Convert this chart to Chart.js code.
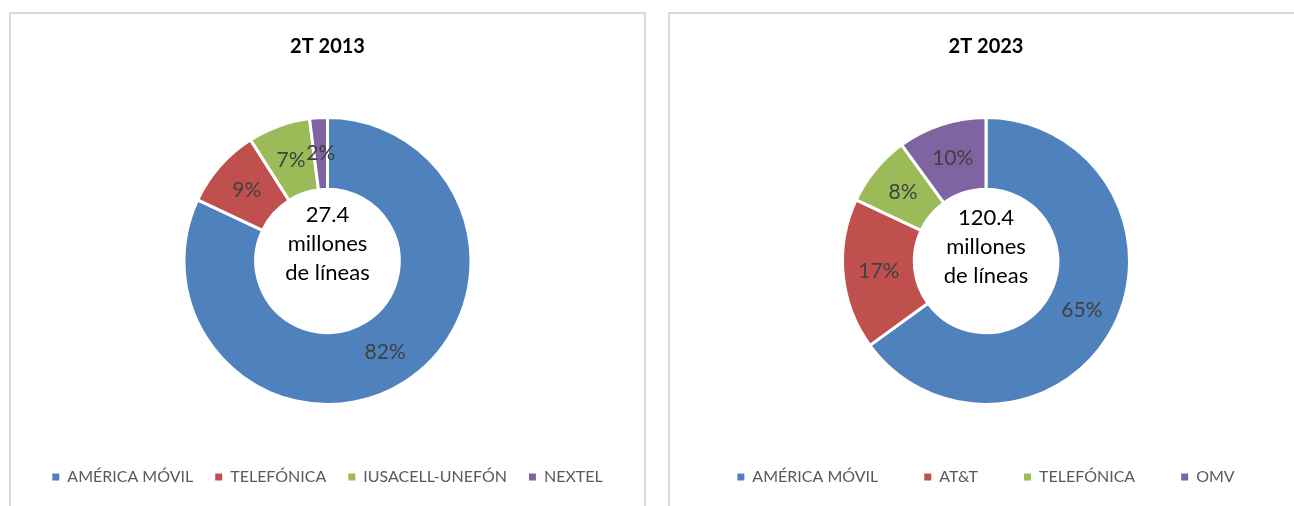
<!DOCTYPE html>
<html>
<head>
<meta charset="utf-8">
<script src="https://cdn.jsdelivr.net/npm/chart.js@4.4.0/dist/chart.umd.min.js"></script>
<style>
  html, body { margin: 0; padding: 0; background: #fff; overflow: hidden; }
  body { width: 1294px; height: 506px; position: relative; }
  .panel { position: absolute; top: 12px; height: 500px; border: 2px solid #d9d9d9; border-bottom: none; }
  #left { left: 9px; width: 633px; }
  #right { left: 668px; width: 632px; }
  canvas { display: block; }
</style>
</head>
<body>
<div class="panel" id="left"><canvas id="chart2013" width="633" height="492"></canvas></div>
<div class="panel" id="right"><canvas id="chart2023" width="632" height="492"></canvas></div>
<script>
// 2T 2013
const labels2013 = ['AMÉRICA MÓVIL', 'TELEFÓNICA', 'IUSACELL-UNEFÓN', 'NEXTEL'];
const shares2013 = [82, 9, 7, 2];
const total2013 = '27.4';

// 2T 2023
const labels2023 = ['AMÉRICA MÓVIL', 'AT&T', 'TELEFÓNICA', 'OMV'];
const shares2023 = [65, 17, 8, 10];
const total2023 = '120.4';

const colors = ['#4f81bd', '#c0504d', '#9bbb59', '#8064a2'];

Chart.defaults.font.family = 'Lato';

// percent labels inside the slices + the total in the hole
const sliceLabels = {
  id: 'sliceLabels',
  afterDatasetsDraw(chart, args, opts) {
    const ctx = chart.ctx;
    const meta = chart.getDatasetMeta(0);
    const data = chart.data.datasets[0].data;
    ctx.save();
    ctx.font = '21px Lato';
    ctx.fillStyle = '#404040';
    ctx.textAlign = 'center';
    ctx.textBaseline = 'middle';
    meta.data.forEach((arc, i) => {
      const p = arc.tooltipPosition();
      ctx.fillText(data[i] + '%', p.x, p.y);
    });

    const cx = meta.data[0].x, cy = meta.data[0].y;
    ctx.font = '22px Lato';
    ctx.fillStyle = '#000';
    ctx.textBaseline = 'alphabetic';
    opts.lines.forEach((line, i) => {
      ctx.fillText(line, cx, cy + opts.top + i * 29);
    });
    ctx.restore();
  }
};

function makeChart(id, title, labels, shares, total, legendGap, titleGap, centerTop) {
  return new Chart(document.getElementById(id), {
    type: 'doughnut',
    data: {
      labels: labels,
      datasets: [{
        data: shares,
        backgroundColor: colors,
        borderColor: '#fff',
        borderWidth: 3,
        radius: 143.5,
        cutout: '50%'
      }]
    },
    options: {
      responsive: false,
      animation: false,
      events: [],
      layout: { padding: { bottom: 11 } },
      plugins: {
        title: {
          display: true,
          text: title,
          color: '#000',
          font: { size: 20, weight: 'bold' },
          padding: { top: 21, bottom: titleGap }
        },
        legend: {
          position: 'bottom',
          labels: {
            usePointStyle: true,
            pointStyle: 'rect',
            boxWidth: 7,
            boxHeight: 7,
            pointStyleWidth: 7,
            padding: legendGap,
            color: '#595959',
            font: { size: 16 },
            generateLabels(chart) {
              return Chart.overrides.doughnut.plugins.legend.labels.generateLabels(chart)
                .map(l => ({ ...l, lineWidth: 0 }));
            }
          }
        },
        tooltip: { enabled: false },
        sliceLabels: { lines: [total, 'millones', 'de líneas'], top: centerTop }
      }
    },
    plugins: [sliceLabels]
  });
}

makeChart('chart2013', '2T 2013', labels2013, shares2013, total2013, 22, 16, -39);
makeChart('chart2023', '2T 2023', labels2023, shares2023, total2023, 46, 40, -36);
</script>
</body>
</html>
